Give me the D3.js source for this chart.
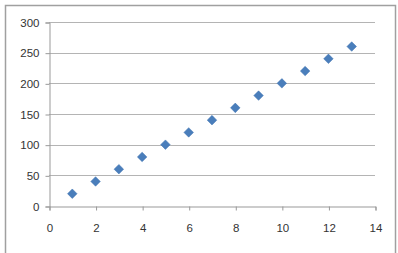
<!DOCTYPE html>
<html><head><meta charset="utf-8">
<script src="https://cdn.jsdelivr.net/npm/d3@7"></script>
<style>
html,body{margin:0;padding:0;background:#fff;}
svg{display:block;}
text{font-family:"Liberation Sans Narrow","Liberation Sans",sans-serif;font-size:11px;fill:#333;}
</style></head>
<body>
<script>
const xValues = [1,2,3,4,5,6,7,8,9,10,11,12,13];
const yValues = [20,40,60,80,100,120,140,160,180,200,220,240,260];
const xTicks = [0,2,4,6,8,10,12,14];
const yTicks = [0,50,100,150,200,250,300];

const W = 398, H = 253;
const svg = d3.select("body").append("svg").attr("width", W).attr("height", H);

// outer frame
svg.append("rect").attr("x",5.5).attr("y",5.5).attr("width",390).attr("height",252)
  .attr("fill","#fff").attr("stroke","#a0a0a0").attr("stroke-width",1.5);

const m = {left:49, right:375, top:22, bottom:206};
const x = d3.scaleLinear().domain([0,14]).range([m.left, m.right]);
const y = d3.scaleLinear().domain([0,300]).range([m.bottom, m.top]);

// gridlines
svg.append("g").selectAll("line").data(yTicks.filter(d=>d>0)).join("line")
  .attr("x1", m.left).attr("x2", m.right)
  .attr("y1", d=>Math.round(y(d))+0.5).attr("y2", d=>Math.round(y(d))+0.5)
  .attr("stroke","#b4b4b4").attr("stroke-width",1);

// y axis
const yAxis = svg.append("g").attr("transform",`translate(${m.left+0.5},0.5)`)
  .call(d3.axisLeft(y).tickValues(yTicks).tickSize(4).tickPadding(6));
// x axis
const xAxis = svg.append("g").attr("transform",`translate(0.5,${Math.round(m.bottom)+0.5})`)
  .call(d3.axisBottom(x).tickValues(xTicks).tickSize(4).tickPadding(13));
[yAxis,xAxis].forEach(a=>{
  a.select(".domain").attr("stroke","#999");
  a.selectAll(".tick line").attr("stroke","#999");
  a.selectAll("text").attr("fill","#333").style("font-size","11.5px");
});

// markers
const sym = d3.symbol().type(d3.symbolDiamond2).size(58);
svg.append("g").selectAll("path").data(xValues.map((v,i)=>[v,yValues[i]])).join("path")
  .attr("transform", d=>`translate(${x(d[0])},${y(d[1])})`)
  .attr("d", sym).attr("fill","#4a7ebb").attr("stroke","#3f72b0").attr("stroke-width",0.5);
</script>
</body></html>
